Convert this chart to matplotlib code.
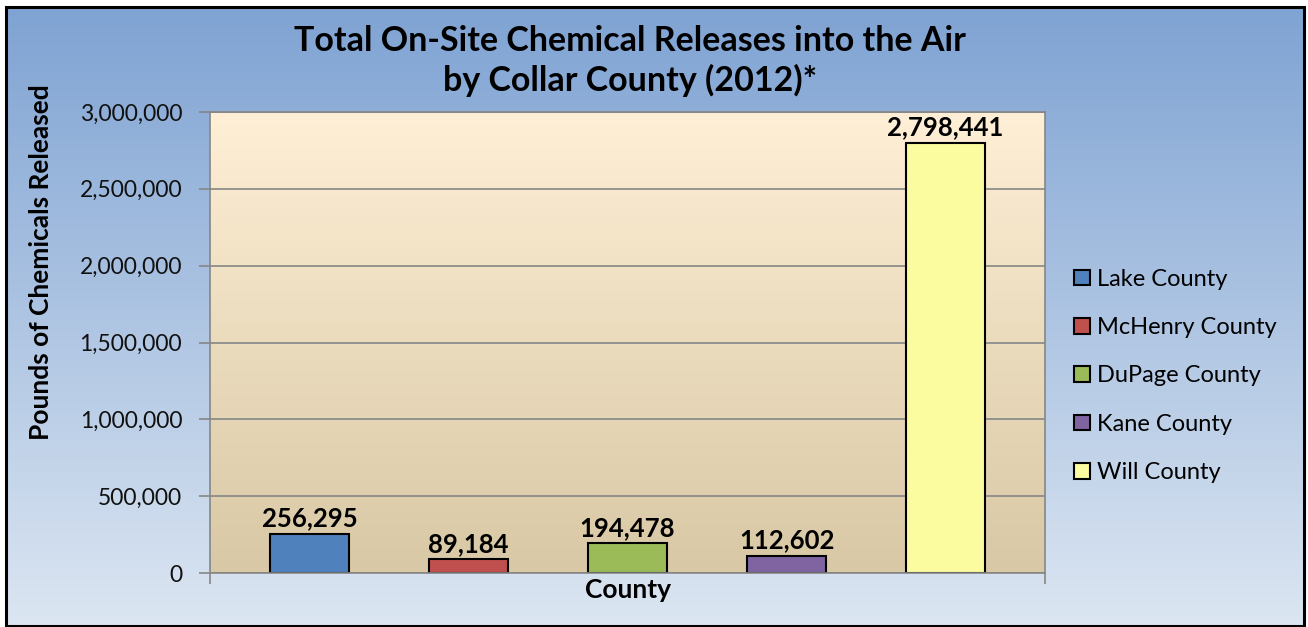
import numpy as np
import matplotlib.pyplot as plt
from matplotlib.patches import Rectangle
from matplotlib.ticker import FuncFormatter

plt.rcParams['font.family'] = ['Lato', 'DejaVu Sans']

counties = ['Lake County', 'McHenry County', 'DuPage County', 'Kane County', 'Will County']
releases = [256295, 89184, 194478, 112602, 2798441]
colors = ['#4F81BD', '#C0504D', '#9BBB59', '#8064A2', '#FBFB9F']
yticks = [0, 500000, 1000000, 1500000, 2000000, 2500000, 3000000]

W, H = 1308, 627
fig = plt.figure(figsize=(W / 100, H / 100), dpi=100, facecolor='white')

# outer chart background: blue gradient inside a black frame
x0, y0, x1, y1 = 6, 7, 1304, 626
bg = fig.add_axes([x0 / W, 1 - y1 / H, (x1 - x0) / W, (y1 - y0) / H], zorder=-10)
grad = np.linspace(0, 1, 256).reshape(-1, 1)
top = np.array([0x7f, 0xa3, 0xd3]) / 255
bot = np.array([0xdc, 0xe6, 0xf2]) / 255
img = top + (bot - top) * grad[..., None]
bg.imshow(img, aspect='auto', extent=(0, 1, 0, 1), origin='upper')
bg.set_xlim(0, 1)
bg.set_ylim(0, 1)
bg.axis('off')
bg.add_patch(Rectangle((0, 0), 1, 1, transform=bg.transAxes, fill=False,
                       edgecolor='black', linewidth=2.2, clip_on=False))

# plot area
px0, py0, px1, py1 = 210, 112, 1045, 573
ax = fig.add_axes([px0 / W, 1 - py1 / H, (px1 - px0) / W, (py1 - py0) / H])
ptop = np.array([0xfe, 0xef, 0xd6]) / 255
pbot = np.array([0xd8, 0xc8, 0xa5]) / 255
pimg = ptop + (pbot - ptop) * grad[..., None]
ax.imshow(pimg, aspect='auto', extent=(0, 1, 0, 1), origin='upper',
          transform=ax.transAxes, zorder=0)

x = np.arange(len(counties))
bars = ax.bar(x, releases, width=0.5, color=colors, edgecolor='black',
              linewidth=1.5, zorder=2)

for xi, v in zip(x, releases):
    ax.text(xi, v + 22000, f'{v:,}', ha='center', va='bottom',
            fontsize=18.5, fontweight='bold', zorder=3)

ax.set_xlim(-0.625, len(counties) - 0.375)
ax.set_ylim(0, 3000000)
ax.set_yticks(yticks)
ax.yaxis.set_major_formatter(FuncFormatter(lambda v, p: f'{int(v):,}'))
ax.set_xticks([-0.625, len(counties) - 0.375])
ax.set_xticklabels([])
ax.tick_params(axis='y', length=8, width=1.2, color='#868686', labelsize=16.5,
               labelcolor='#111111', pad=12)
ax.tick_params(axis='x', length=8, width=1.2, color='#868686')
ax.grid(axis='y', color='#868686', linewidth=1.2, zorder=1)
ax.set_axisbelow(True)
for s in ax.spines.values():
    s.set_color('#868686')
    s.set_linewidth(1.2)

ax.set_xlabel('County', fontsize=19, fontweight='bold', labelpad=-8)
ax.set_ylabel('Pounds of Chemicals Released', fontsize=19, fontweight='bold')
ax.yaxis.set_label_coords(-0.188, 0.675)

fig.text(630 / W, 1 - 61 / H, 'Total On-Site Chemical Releases into the Air\nby Collar County (2012)*',
         ha='center', va='center', fontsize=24.5, fontweight='bold', linespacing=1.25)

handles = [Rectangle((0, 0), 1, 1, facecolor=c, edgecolor='black', linewidth=1.5) for c in colors]
fig.legend(handles, counties, loc='center left', bbox_to_anchor=(1065 / W, 1 - 376 / H),
           frameon=False, fontsize=17, handlelength=0.65, handleheight=0.65,
           handletextpad=0.3, labelspacing=1.16, borderaxespad=0)

fig.savefig('out.png', dpi=100, facecolor='white')
